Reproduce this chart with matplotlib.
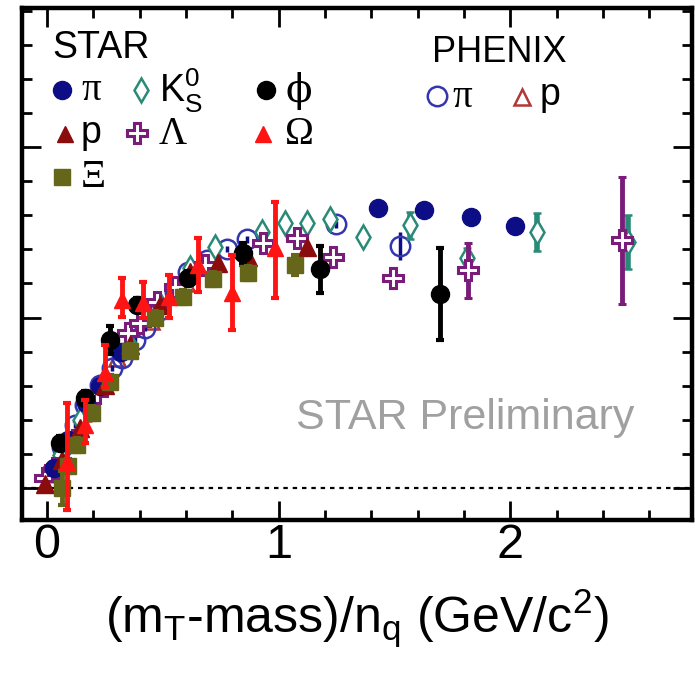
import numpy as np
import matplotlib
matplotlib.use("Agg")
import matplotlib.pyplot as plt

plt.rcParams["font.family"] = ["Liberation Sans", "DejaVu Sans"]
plt.rcParams["mathtext.fontset"] = "custom"
plt.rcParams["mathtext.rm"] = "Liberation Sans"
plt.rcParams["mathtext.it"] = "Liberation Sans:italic"

# STAR pi (filled circles)
pi_x = [0.03, 0.09, 0.17, 0.23, 0.32, 1.429, 1.627, 1.830, 2.020]
pi_y = [0.006, 0.014, 0.025, 0.030, 0.040, 0.0821, 0.0815, 0.0795, 0.0768]

# STAR K0S (open diamonds)
k0s_x = [0.056, 0.142, 0.250, 0.358, 0.488, 0.617, 0.725, 0.928, 1.027, 1.122,
         1.221, 1.364, 1.567, 1.813, 2.115, 2.508]
k0s_y = [0.0097, 0.0199, 0.0317, 0.0419, 0.0537, 0.0645, 0.0707, 0.0751, 0.0777,
         0.0777, 0.0789, 0.0736, 0.0771, 0.0674, 0.0751, 0.0721]
k0s_err = [0.001, 0.001, 0.001, 0.001, 0.001, 0.001, 0.001, 0.001, 0.001,
           0.001, 0.001, 0.001, 0.004, 0.003, 0.0057, 0.008]

# STAR phi (filled black circles)
phi_x = [0.056, 0.164, 0.272, 0.388, 0.609, 0.846, 1.178, 1.696]
phi_y = [0.0132, 0.0264, 0.0434, 0.0537, 0.0616, 0.0689, 0.0642, 0.0569]
phi_err = [0.002, 0.002, 0.004, 0.002, 0.002, 0.003, 0.0069, 0.0135]

# STAR p (filled triangles)
p_x = [-0.009, 0.065, 0.142, 0.250, 0.358, 0.488, 0.617, 0.738, 0.868, 1.122]
p_y = [0.0012, 0.0082, 0.0176, 0.0302, 0.0419, 0.0537, 0.0633, 0.0660, 0.0677, 0.0707]

# STAR Lambda (open crosses)
lam_x = [-0.009, 0.035, 0.121, 0.216, 0.350, 0.401, 0.475, 0.552, 0.682, 0.932,
         1.079, 1.234, 1.493, 1.817, 2.482]
lam_y = [0.0029, 0.0059, 0.0141, 0.0279, 0.0455, 0.0484, 0.0545, 0.0589, 0.0654,
         0.0718, 0.0733, 0.0677, 0.0616, 0.0639, 0.0727]
lam_err = [0.001, 0.001, 0.001, 0.001, 0.001, 0.001, 0.001, 0.001, 0.001, 0.001,
           0.001, 0.001, 0.003, 0.0081, 0.0186]

# STAR Omega (filled triangles with error bars)
omg_x = [0.086, 0.164, 0.250, 0.324, 0.414, 0.527, 0.652, 0.798, 0.984]
omg_y = [0.0076, 0.0185, 0.0337, 0.0551, 0.0543, 0.0560, 0.0654, 0.0572, 0.0704]
omg_lo = [0.0141, 0.0053, 0.0041, 0.0050, 0.0044, 0.0062, 0.0079, 0.0109, 0.0147]
omg_hi = [0.0173, 0.0073, 0.0082, 0.0065, 0.0062, 0.0065, 0.0079, 0.0111, 0.0135]

# STAR Xi (filled squares)
xi_x = [0.065, 0.091, 0.129, 0.194, 0.272, 0.358, 0.466, 0.587, 0.716, 0.868, 1.070]
xi_y = [0.0000, 0.0065, 0.0126, 0.0220, 0.0311, 0.0402, 0.0499, 0.0560, 0.0613,
        0.0630, 0.0654]
xi_err = [0.005, 0.002, 0.002, 0.002, 0.002, 0.002, 0.002, 0.002, 0.002, 0.002, 0.003]

# PHENIX pi (open circles)
ppi_x = [0.022, 0.065, 0.121, 0.164, 0.229, 0.281, 0.324, 0.380, 0.423, 0.488,
         0.552, 0.609, 0.691, 0.777, 0.863, 1.247, 1.524]
ppi_y = [0.0047, 0.0120, 0.0185, 0.0243, 0.0302, 0.0352, 0.0381, 0.0434, 0.0469,
         0.0522, 0.0575, 0.0633, 0.0669, 0.0701, 0.0730, 0.0774, 0.0710]
ppi_err = [0.001] * 16 + [0.004]

# PHENIX p (open triangles)
pp_x = [0.15, 0.30, 0.45, 0.60]
pp_y = [0.022, 0.038, 0.049, 0.060]

c_pi = "#0d0d85"
c_k0s = "#2a8a78"
c_phi = "black"
c_p = "#8a0c0c"
c_lam = "#7a1c7a"
c_omg = "#ff1414"
c_xi = "#66661a"
c_ppi = "#3535b0"
c_pp = "#b03838"

fig = plt.figure(figsize=(6.95, 6.75), dpi=100)
ax = fig.add_axes([22 / 695, 1 - 520 / 675, 670 / 695, 512 / 675])

ax.axhline(0, color="black", lw=1.6, ls=(0, (2, 2.2)), zorder=1)

ax.plot(pp_x, pp_y, ls="none", marker="^", ms=12, mfc="none", mec=c_pp, mew=1.8, zorder=2)
ax.errorbar(ppi_x, ppi_y, yerr=ppi_err, fmt="o", ms=14, mfc="none", mec=c_ppi, mew=1.8,
            ecolor=c_pi, elinewidth=2.5, capsize=0, zorder=3)
ax.errorbar(k0s_x, k0s_y, yerr=k0s_err, fmt="d", ms=12, mfc="white", mec=c_k0s, mew=1.8,
            ecolor=c_k0s, elinewidth=4, capsize=3, capthick=3, zorder=4)
ax.errorbar(lam_x, lam_y, yerr=lam_err, fmt="P", ms=15, mfc="white", mec=c_lam, mew=2.2,
            ecolor=c_lam, elinewidth=3.5, capsize=3, capthick=3, zorder=5)
ax.plot(pi_x, pi_y, ls="none", marker="o", ms=13, color=c_pi, zorder=6)
ax.plot(p_x, p_y, ls="none", marker="^", ms=13, color=c_p, zorder=6)
ax.errorbar(phi_x, phi_y, yerr=phi_err, fmt="o", ms=13, color=c_phi,
            elinewidth=3.5, capsize=3, capthick=3, zorder=7)
ax.errorbar(xi_x, xi_y, yerr=xi_err, fmt="s", ms=12, color=c_xi,
            elinewidth=3.5, capsize=3, capthick=3, zorder=8)
ax.errorbar(omg_x, omg_y, yerr=[omg_lo, omg_hi], fmt="^", ms=12, color=c_omg,
            elinewidth=3.5, capsize=3, capthick=3, zorder=9)

ax.set_xlim(-0.108, 2.784)
ax.set_ylim(-0.0094, 0.1408)
ax.set_xticks([0, 1, 2])
ax.set_xticks(np.arange(0, 2.8, 0.2), minor=True)
ax.set_yticks(np.arange(0, 0.15, 0.05))
ax.set_yticks(np.arange(0, 0.141, 0.01), minor=True)
ax.tick_params(which="both", direction="in", top=True, right=True, labelleft=False)
ax.tick_params(which="major", length=14, width=2)
ax.tick_params(which="minor", length=7, width=2)
ax.tick_params(axis="x", labelsize=35, pad=2)
for s in ax.spines.values():
    s.set_linewidth(3.2)

ax.set_xlabel(r"(m$_\mathrm{T}$-mass)/n$_\mathrm{q}$ (GeV/c$^\mathrm{2}$)", fontsize=36, labelpad=14)

# legend blocks
tr = ax.transAxes
serif = ["Liberation Serif", "DejaVu Serif"]
ax.text(0.045, 0.922, "STAR", transform=tr, fontsize=27, va="center")
ax.plot(0.060, 0.840, transform=tr, marker="o", ms=13, color=c_pi, clip_on=False)
ax.text(0.088, 0.838, "π", transform=tr, fontsize=28, va="center", family=serif)
ax.plot(0.178, 0.840, transform=tr, marker="d", ms=12, mfc="white", mec=c_k0s, mew=1.8)
ax.text(0.204, 0.838, r"K$_\mathrm{S}^\mathrm{0}$", transform=tr, fontsize=27, va="center")
ax.plot(0.364, 0.840, transform=tr, marker="o", ms=13, color=c_phi)
ax.text(0.394, 0.838, "ϕ", transform=tr, fontsize=28, va="center",
        family=["DejaVu Serif", "Liberation Serif"])
ax.plot(0.064, 0.753, transform=tr, marker="^", ms=12, color=c_p)
ax.text(0.088, 0.756, "p", transform=tr, fontsize=27, va="center")
ax.plot(0.172, 0.756, transform=tr, marker="P", ms=14, mfc="white", mec=c_lam, mew=2.2)
ax.text(0.204, 0.752, "Λ", transform=tr, fontsize=28, va="center", family=serif)
ax.plot(0.360, 0.753, transform=tr, marker="^", ms=12, color=c_omg)
ax.text(0.392, 0.752, "Ω", transform=tr, fontsize=28, va="center", family=serif)
ax.plot(0.060, 0.670, transform=tr, marker="s", ms=12, color=c_xi)
ax.text(0.088, 0.668, "Ξ", transform=tr, fontsize=28, va="center", family=serif)

ax.text(0.612, 0.914, "PHENIX", transform=tr, fontsize=26, va="center")
ax.plot(0.619, 0.828, transform=tr, marker="o", ms=14, mfc="none", mec=c_ppi, mew=1.8)
ax.text(0.643, 0.826, "π", transform=tr, fontsize=28, va="center", family=serif)
ax.plot(0.746, 0.826, transform=tr, marker="^", ms=12, mfc="none", mec=c_pp, mew=1.8)
ax.text(0.772, 0.830, "p", transform=tr, fontsize=27, va="center")

ax.text(0.661, 0.199, "STAR Preliminary", transform=tr, fontsize=31, color="#a0a0a0",
        ha="center", va="center")

fig.savefig("out.png", dpi=100)
